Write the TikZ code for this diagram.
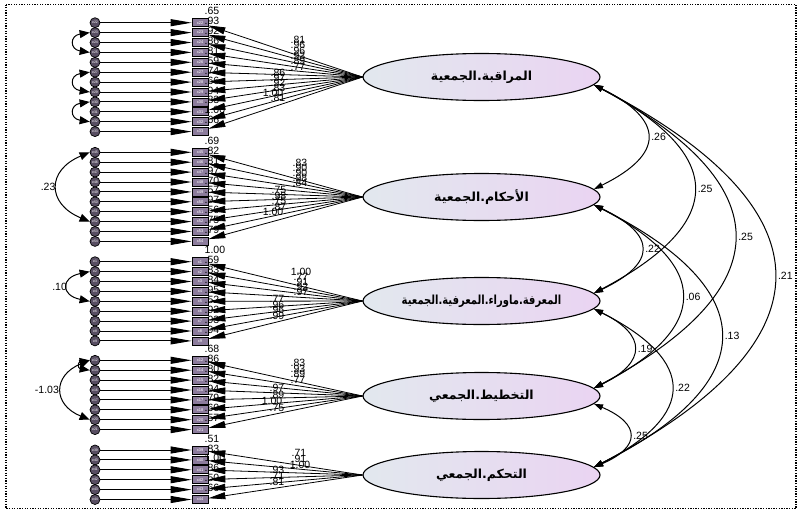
\documentclass[tikz,border=0pt]{standalone}
\usepackage{fontspec}
\setmainfont{Liberation Sans}
\newfontfamily\arabicfont[Script=Arabic]{DejaVu Sans}
\TeXXeTstate=1
\usetikzlibrary{shapes.geometric,arrows.meta}

\definecolor{ellL}{RGB}{226,232,238}
\definecolor{ellR}{RGB}{234,212,242}
\definecolor{obsfill}{RGB}{140,124,156}
\definecolor{errfill}{RGB}{88,78,98}

\tikzset{
  latent/.style={ellipse, draw=black, line width=1.1pt, minimum width=237pt,
    minimum height=47pt, inner sep=0pt, left color=ellL, right color=ellR},
  latname/.style={inner sep=0pt, font=\arabicfont\bfseries\fontsize{12.5}{14}\selectfont},
  obs/.style={rectangle, draw=black, line width=0.7pt, fill=obsfill,
    minimum width=16pt, minimum height=8pt, inner sep=0pt, text=white,
    font=\fontsize{4}{4}\selectfont},
  err/.style={circle, draw=black, line width=0.7pt, fill=errfill,
    minimum size=10pt, inner sep=0pt, text=white, font=\fontsize{3.5}{3.5}\selectfont},
  errarr/.style={line width=0.9pt, -{Triangle[length=21pt,width=7pt]}},
  load/.style={line width=0.8pt, -{Triangle[length=17pt,width=7pt]}},
  cov/.style={line width=1pt, {Triangle[length=9pt,width=6pt]}-{Triangle[length=9pt,width=6pt]}},
  ecov/.style={line width=1pt, {Triangle[length=10pt,width=8pt]}-{Triangle[length=10pt,width=8pt]}},
  num/.style={font=\fontsize{10.5}{10.5}\selectfont, inner sep=0.5pt},
  frame/.style={line width=1.3pt, dash pattern=on 1.3pt off 1.3pt},
}

\begin{document}
\begin{tikzpicture}[x=1pt,y=-1pt]
\useasboundingbox (0,0) rectangle (800,514);
\draw[frame] (6,4.5) rectangle (796,508.5);

% latent factors and their names
\node[latent] (F1) at (481.5,77)  {};
\node[latent] (F2) at (481.5,197) {};
\node[latent] (F3) at (481.5,301) {};
\node[latent] (F4) at (481.5,396) {};
\node[latent] (F5) at (481.5,475) {};
\node[latname] (t1) at (F1) {\beginR المراقبة.الجمعية\endR};
\node[latname] (t2) at (F2) {\beginR الأحكام.الجمعية\endR};
\node[latname] (t3) at (F3) {\scalebox{0.8}[1]{\beginR المعرفة.ماوراء.المعرفية.الجمعية\endR}};
\node[latname] (t4) at (F4) {\beginR التخطيط.الجمعي\endR};
\node[latname] (t5) at (F5) {\beginR التحكم.الجمعي\endR};

% indicators: box, error term, error path, loading path, squared multiple correlation
\foreach \n/\r [count=\i] in {22/.65,23/.93,24/.92,25/.86,26/.81,27/.59,28/.74,29/.66,30/.94,31/.83,32/1.00,33/.66}{
  \pgfmathsetmacro\yy{22.7+9.9*(\i-1)}
  \node[obs] (x\n) at (200,\yy) {x\n};
  \node[err] (e\n) at (95,\yy) {e\n};
  \draw[errarr] (e\n) -- (x\n);
  \draw[load] (F1.west) -- (x\n);
  \node[num, anchor=west] (r\n) at (204,\yy-11.5) {\r};
}
\foreach \n/\r [count=\i] in {45/.69,46/.82,47/.81,48/.97,49/.70,50/.57,51/.97,52/.56,53/.75,54/.79}{
  \pgfmathsetmacro\yy{152.3+9.9*(\i-1)}
  \node[obs] (x\n) at (200,\yy) {x\n};
  \node[err] (e\n) at (95,\yy) {e\n};
  \draw[errarr] (e\n) -- (x\n);
  \draw[load] (F2.west) -- (x\n);
  \node[num, anchor=west] (r\n) at (204,\yy-11.5) {\r};
}
\foreach \n/\r [count=\i] in {1/1.00,2/.59,3/.83,4/.84,5/.95,6/.52,7/.92,8/.93,9/.94}{
  \pgfmathsetmacro\yy{261.7+9.9*(\i-1)}
  \node[obs] (x\n) at (200,\yy) {x\n};
  \node[err] (e\n) at (95,\yy) {e\n};
  \draw[errarr] (e\n) -- (x\n);
  \draw[load] (F3.west) -- (x\n);
  \node[num, anchor=west] (r\n) at (204,\yy-11.5) {\r};
}
\foreach \n/\r [count=\i] in {12/.68,14/.86,15/.80,16/.82,17/.94,18/.79,20/.60,21/.57}{
  \pgfmathsetmacro\yy{360.3+9.9*(\i-1)}
  \node[obs] (x\n) at (200,\yy) {x\n};
  \node[err] (e\n) at (95,\yy) {e\n};
  \draw[errarr] (e\n) -- (x\n);
  \draw[load] (F4.west) -- (x\n);
  \node[num, anchor=west] (r\n) at (204,\yy-11.5) {\r};
}
\foreach \n/\r [count=\i] in {39/.51,40/.83,41/1.00,42/.86,43/.50,44/.66}{
  \pgfmathsetmacro\yy{450+9.9*(\i-1)}
  \node[obs] (x\n) at (200,\yy) {x\n};
  \node[err] (e\n) at (95,\yy) {e\n};
  \draw[errarr] (e\n) -- (x\n);
  \draw[load] (F5.west) -- (x\n);
  \node[num, anchor=west] (r\n) at (204,\yy-11.5) {\r};
}

% standardized loadings
\foreach \v/\xx/\yy [count=\k] in {.81/298/40,.96/298/45.3,.96/298/50.6,.93/298/55.9,.89/298/61.2,.77/298/66.5,
  .86/278/73,.97/278/78,.92/278/83,.83/278/88,1.00/273/93,.81/278/98}
  \node[num] (la\k) at (\xx,\yy) {\v};
\foreach \v/\xx/\yy [count=\k] in {.83/300/163,.90/300/168,.90/300/173,.98/300/178,.84/300/183,
  .75/279/190,.98/279/195.5,.75/279/201,.87/279/206.5,1.00/273/212}
  \node[num] (lb\k) at (\xx,\yy) {\v};
\foreach \v/\xx/\yy [count=\k] in {1.00/301/272,.77/301/277,.91/301/282,.92/301/287,.97/301/292,
  .77/277/299,.96/277/304.5,.96/277/310,.99/277/315.5}
  \node[num] (lc\k) at (\xx,\yy) {\v};
\foreach \v/\xx/\yy [count=\k] in {.83/298/363,.93/298/368.5,.89/298/374,.77/298/379.5,
  .97/277/388,.89/277/394.5,1.00/272/401,.75/277/407.5}
  \node[num] (ld\k) at (\xx,\yy) {\v};
\foreach \v/\xx/\yy [count=\k] in {.71/299/453,.91/299/459,1.00/300/465,
  .93/277/470,.71/277/476,.81/277/482}
  \node[num] (le\k) at (\xx,\yy) {\v};

% error covariances
\draw[ecov] (e23.west) .. controls +(-20,3) and +(-20,-3) .. (e25.west);
\draw[ecov] (e27.west) .. controls +(-20,3) and +(-20,-3) .. (e29.west);
\draw[ecov] (e30.west) .. controls +(-20,3) and +(-20,-3) .. (e32.west);
\draw[ecov] (e45.west) .. controls +(-43,18) and +(-43,-18) .. (e52.west)
  node[num, pos=0.5, left=1pt] (c1) {.23};
\draw[ecov] (e2.west) .. controls +(-29,6) and +(-29,-6) .. (e5.west)
  node[num, pos=0.5, left=0pt] (c2) {.10};
\draw[ecov] (e12.west) .. controls +(-37,15) and +(-37,-15) .. (e20.west)
  node[num, pos=0.5, left=2pt] (c3) {-1.03};
\draw[ecov] (e12.west) .. controls +(-12,2) and +(-12,-2) .. (e14.west);

% factor covariances
\draw[cov] (F1.-4) .. controls +(71,35) and +(71,-35) .. (F2.4) node[num,pos=0.5,right=3pt] (k12) {.26};
\draw[cov] (F1.-4) .. controls +(133,70) and +(133,-70) .. (F3.4) node[num,pos=0.5,right=3pt] (k13) {.25};
\draw[cov] (F1.-4) .. controls +(187,100) and +(187,-100) .. (F4.4) node[num,pos=0.5,right=3pt] (k14) {.25};
\draw[cov] (F1.-4) .. controls +(240,125) and +(240,-125) .. (F5.4) node[num,pos=0.5,right=3pt] (k15) {.21};
\draw[cov] (F2.-4) .. controls +(63,30) and +(63,-30) .. (F3.4) node[num,pos=0.5,right=3pt] (k23) {.22};
\draw[cov] (F2.-4) .. controls +(117,60) and +(117,-60) .. (F4.4) node[num,pos=0.5,right=3pt] (k24) {.06};
\draw[cov] (F2.-4) .. controls +(169,85) and +(169,-85) .. (F5.4) node[num,pos=0.5,right=3pt] (k25) {.13};
\draw[cov] (F3.-4) .. controls +(53,26) and +(53,-26) .. (F4.4) node[num,pos=0.5,right=3pt] (k34) {.19};
\draw[cov] (F3.-4) .. controls +(103,52) and +(103,-52) .. (F5.4) node[num,pos=0.5,right=3pt] (k35) {.22};
\draw[cov] (F4.-4) .. controls +(47,20) and +(47,-20) .. (F5.4) node[num,pos=0.5,right=3pt] (k45) {.25};
\end{tikzpicture}
\end{document}
